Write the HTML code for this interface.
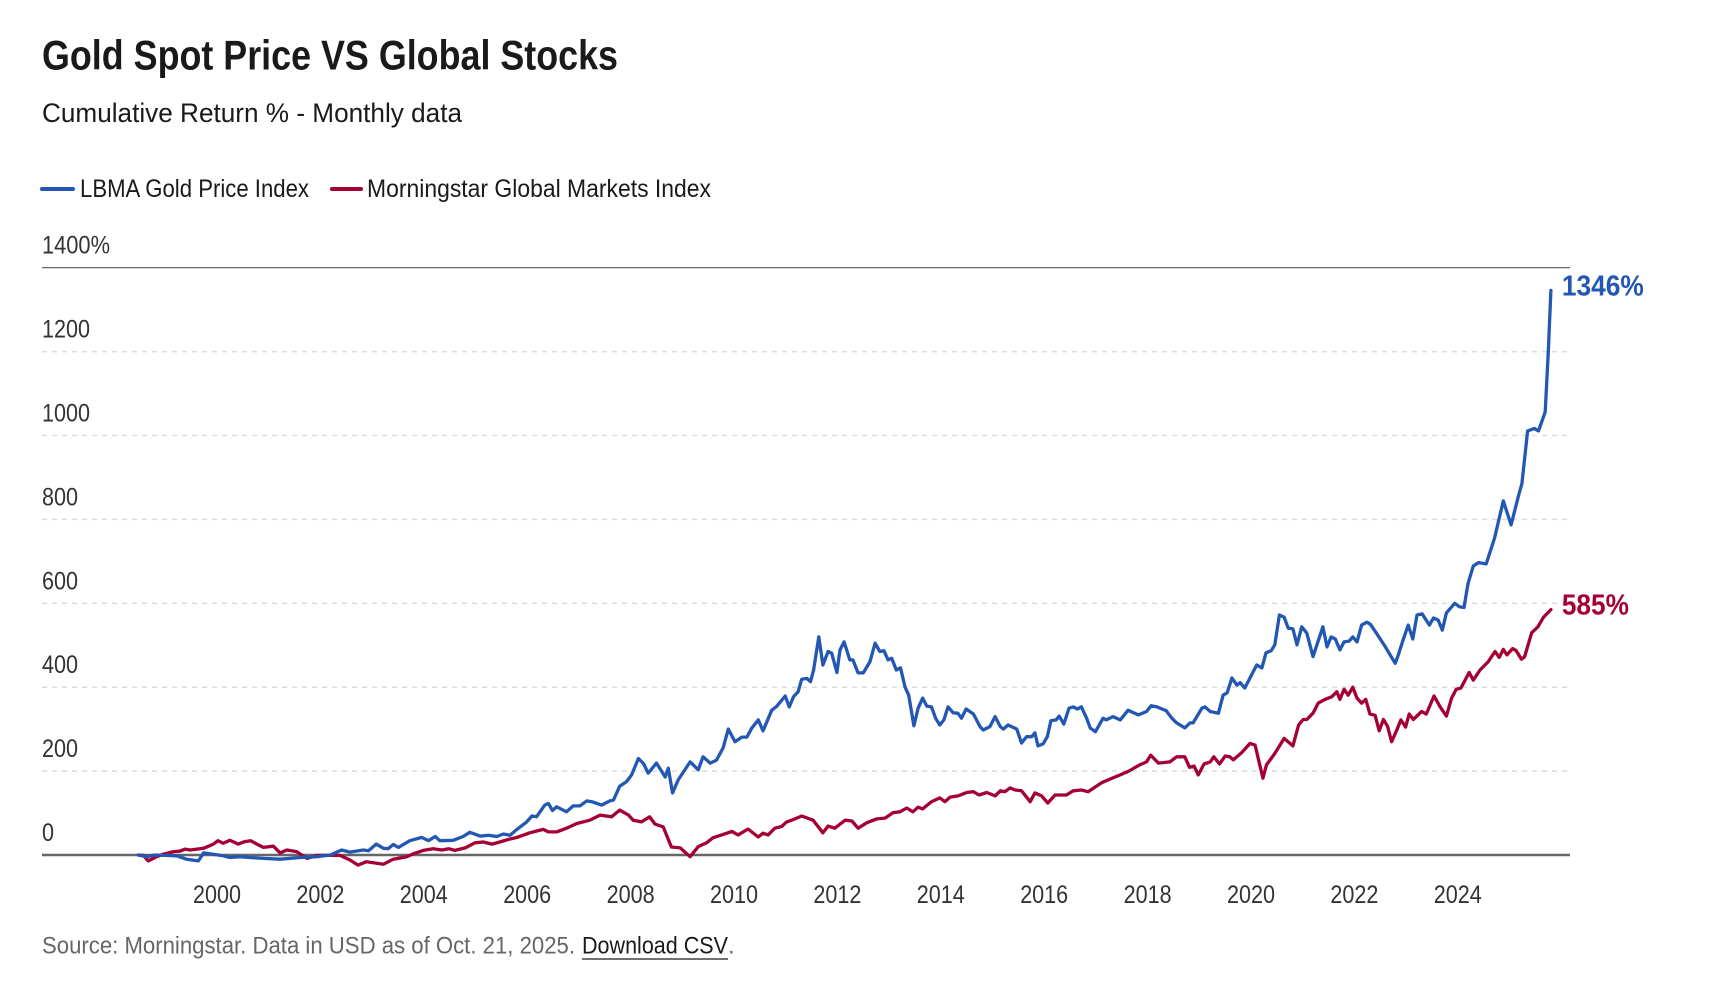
<!DOCTYPE html>
<html><head><meta charset="utf-8"><style>
html,body{margin:0;padding:0;background:#fff;}
svg{display:block;}
text{font-family:"Liberation Sans Narrow","Liberation Sans",sans-serif;}
</style></head><body>
<svg id="chart" width="1720" height="996" viewBox="0 0 1720 996">
<text x="42" y="55" font-size="42" font-weight="bold" fill="#1a1a1a" dominant-baseline="central" textLength="576" lengthAdjust="spacingAndGlyphs">Gold Spot Price VS Global Stocks</text>
<text x="42" y="113" font-size="27" fill="#1a1a1a" dominant-baseline="central" textLength="420" lengthAdjust="spacingAndGlyphs">Cumulative Return % - Monthly data</text>
<g>
<g><line x1="42" y1="189" x2="73" y2="189" stroke="#2257b3" stroke-width="4" stroke-linecap="round"/><text x="80" y="189" font-size="25" fill="#1a1a1a" dominant-baseline="central" textLength="229" lengthAdjust="spacingAndGlyphs">LBMA Gold Price Index</text></g>
<g><line x1="332" y1="189" x2="361" y2="189" stroke="#a50034" stroke-width="4" stroke-linecap="round"/><text x="367" y="189" font-size="25" fill="#1a1a1a" dominant-baseline="central" textLength="344" lengthAdjust="spacingAndGlyphs">Morningstar Global Markets Index</text></g>
</g>
<g id="grid"></g>
<g id="yaxis"></g>
<g id="xaxis"></g>
<g id="series"></g>
<text x="42" y="946" font-size="24" fill="#666" dominant-baseline="central" textLength="533" lengthAdjust="spacingAndGlyphs">Source: Morningstar. Data in USD as of Oct. 21, 2025.</text>
<text x="582" y="946" font-size="24" fill="#1a1a1a" dominant-baseline="central" textLength="146" lengthAdjust="spacingAndGlyphs">Download CSV</text>
<line x1="582" y1="959" x2="728" y2="959" stroke="#1a1a1a" stroke-width="1.3"/>
<text x="728" y="946" font-size="24" fill="#666" dominant-baseline="central">.</text>
</svg>
<script>
const yTicks = [0,200,400,600,800,1000,1200,1400];
const yTickLabels = ["0","200","400","600","800","1000","1200","1400%"];
const xTicks = [2000,2002,2004,2006,2008,2010,2012,2014,2016,2018,2020,2022,2024];
const goldDates = [1998.48,1998.64,1998.80,1999.22,1999.41,1999.64,1999.74,2000.12,2000.25,2000.44,2000.90,2001.22,2001.61,2001.93,2002.19,2002.41,2002.57,2002.83,2002.93,2003.08,2003.22,2003.31,2003.41,2003.51,2003.73,2003.96,2004.09,2004.22,2004.31,2004.57,2004.76,2004.89,2005.09,2005.25,2005.41,2005.54,2005.67,2005.80,2005.99,2006.09,2006.18,2006.34,2006.41,2006.49,2006.57,2006.76,2006.89,2007.02,2007.15,2007.25,2007.44,2007.60,2007.67,2007.79,2007.92,2008.02,2008.15,2008.25,2008.34,2008.50,2008.67,2008.73,2008.81,2008.92,2009.15,2009.31,2009.40,2009.54,2009.66,2009.79,2009.89,2010.02,2010.15,2010.25,2010.34,2010.47,2010.56,2010.73,2010.83,2010.99,2011.07,2011.15,2011.24,2011.31,2011.41,2011.48,2011.54,2011.64,2011.72,2011.82,2011.89,2011.99,2012.05,2012.13,2012.24,2012.30,2012.40,2012.50,2012.63,2012.73,2012.82,2012.90,2012.98,2013.05,2013.14,2013.22,2013.31,2013.38,2013.48,2013.56,2013.65,2013.73,2013.82,2013.90,2013.98,2014.06,2014.14,2014.24,2014.33,2014.40,2014.49,2014.63,2014.76,2014.82,2014.95,2015.05,2015.15,2015.21,2015.30,2015.47,2015.56,2015.66,2015.76,2015.82,2015.88,2015.98,2016.06,2016.13,2016.23,2016.29,2016.38,2016.48,2016.56,2016.64,2016.72,2016.82,2016.89,2016.99,2017.14,2017.20,2017.33,2017.47,2017.62,2017.82,2017.98,2018.07,2018.18,2018.36,2018.47,2018.56,2018.72,2018.82,2018.88,2019.05,2019.11,2019.21,2019.37,2019.46,2019.54,2019.63,2019.73,2019.79,2019.88,2020.11,2020.21,2020.29,2020.39,2020.46,2020.55,2020.64,2020.72,2020.81,2020.89,2020.98,2021.08,2021.20,2021.39,2021.47,2021.55,2021.63,2021.72,2021.80,2021.90,2021.97,2022.05,2022.14,2022.24,2022.31,2022.42,2022.59,2022.79,2022.85,2022.94,2023.04,2023.13,2023.21,2023.31,2023.45,2023.53,2023.62,2023.70,2023.78,2023.94,2024.03,2024.12,2024.20,2024.30,2024.40,2024.55,2024.71,2024.88,2025.03,2025.18,2025.24,2025.35,2025.48,2025.56,2025.69,2025.75,2025.80];
const goldValues = [0,-4,0,-2,-10,-14,5,-2,-6,-4,-8,-10,-6,-4,0,12,7,12,10,26,16,15,25,18,34,42,34,44,34,35,44,54,45,47,44,50,47,61,79,93,91,119,123,106,115,103,117,117,129,127,119,129,131,164,175,191,230,218,195,219,186,207,148,179,222,203,234,219,226,255,300,270,281,281,302,322,296,345,355,379,353,377,389,419,421,413,441,520,453,485,481,435,489,508,465,465,434,434,461,505,485,487,465,469,441,446,400,381,308,350,374,355,353,326,310,322,353,339,338,326,348,336,306,298,306,330,306,300,310,300,267,282,282,291,260,265,282,320,322,331,312,350,353,348,353,326,303,294,326,322,330,322,345,334,342,356,353,344,326,315,303,315,315,350,353,342,338,381,387,422,405,411,398,453,446,482,487,501,572,567,541,539,501,544,529,473,544,496,520,515,489,508,510,520,508,548,555,550,530,498,457,477,512,548,515,572,575,548,565,560,536,577,600,592,590,648,689,697,694,755,844,787,859,885,1011,1017,1011,1056,1200,1346];
const stockDates = [1998.48,1998.58,1998.67,1998.80,1998.96,1999.16,1999.28,1999.38,1999.48,1999.74,1999.93,2000.02,2000.12,2000.25,2000.41,2000.54,2000.65,2000.77,2000.90,2001.09,2001.22,2001.35,2001.54,2001.74,2001.93,2002.19,2002.38,2002.57,2002.73,2002.89,2003.22,2003.41,2003.67,2003.80,2003.99,2004.18,2004.35,2004.48,2004.60,2004.80,2004.99,2005.15,2005.32,2005.47,2005.63,2005.80,2006.05,2006.31,2006.41,2006.57,2006.76,2006.96,2007.21,2007.41,2007.63,2007.79,2007.96,2008.05,2008.21,2008.37,2008.47,2008.63,2008.79,2008.96,2009.15,2009.31,2009.47,2009.59,2009.76,2009.96,2010.08,2010.27,2010.47,2010.56,2010.66,2010.79,2010.92,2011.02,2011.18,2011.31,2011.53,2011.72,2011.82,2011.95,2012.15,2012.28,2012.40,2012.57,2012.76,2012.92,2013.08,2013.21,2013.34,2013.46,2013.56,2013.65,2013.82,2013.98,2014.08,2014.18,2014.33,2014.50,2014.63,2014.74,2014.89,2015.05,2015.15,2015.24,2015.34,2015.44,2015.56,2015.73,2015.82,2015.95,2016.07,2016.21,2016.43,2016.56,2016.72,2016.85,2017.11,2017.27,2017.47,2017.62,2017.85,2017.98,2018.06,2018.21,2018.43,2018.56,2018.72,2018.81,2018.90,2018.98,2019.09,2019.21,2019.28,2019.39,2019.50,2019.59,2019.66,2019.82,2019.98,2020.08,2020.23,2020.30,2020.46,2020.64,2020.81,2020.92,2021.01,2021.08,2021.20,2021.30,2021.43,2021.56,2021.66,2021.72,2021.80,2021.88,2021.97,2022.05,2022.14,2022.22,2022.30,2022.40,2022.48,2022.56,2022.64,2022.72,2022.82,2022.90,2022.99,2023.06,2023.14,2023.30,2023.39,2023.54,2023.66,2023.78,2023.88,2023.97,2024.06,2024.22,2024.30,2024.43,2024.59,2024.72,2024.80,2024.88,2024.95,2025.06,2025.13,2025.23,2025.29,2025.43,2025.55,2025.66,2025.80];
const stockValues = [0,-1,-14,-6,2,8,9,14,12,16,26,34,28,35,26,32,34,26,18,21,5,12,8,-8,-1,-1,-1,-12,-24,-16,-22,-10,-4,3,11,15,12,15,11,17,29,31,26,31,37,42,53,61,55,55,64,75,83,95,91,107,95,83,79,91,74,67,19,17,-4,20,29,41,48,56,48,62,43,52,48,64,68,79,86,93,83,53,69,64,83,81,64,77,86,88,101,103,112,103,114,110,127,136,127,138,141,149,151,143,149,141,153,151,160,155,153,127,148,141,124,143,143,153,155,151,172,181,191,199,215,222,238,219,222,234,234,209,212,191,217,222,234,217,236,234,227,244,266,262,183,215,242,278,260,310,323,323,338,362,371,377,389,371,395,381,400,374,362,371,336,333,296,323,307,270,298,322,305,336,323,342,336,379,353,331,374,395,398,435,417,441,461,485,471,490,477,492,487,467,472,530,544,567,585];

const X0 = 217, PX_PER_YEAR = 51.7, Y0 = 855, PX_PER_UNIT = 83.9/200;
function xScale(yr){ return X0 + (yr-2000)*PX_PER_YEAR; }
function yScale(v){ return Y0 - v*PX_PER_UNIT; }
const NS = "http://www.w3.org/2000/svg";
function mk(tag, attrs){ const e=document.createElementNS(NS,tag); for(const k in attrs) e.setAttribute(k,attrs[k]); return e; }
function labelWidth(s){ let w=0; for(const c of s){ w += (c==='%') ? 20 : 12; } return w; }
const grid=document.getElementById('grid'), yaxis=document.getElementById('yaxis'), xaxis=document.getElementById('xaxis'), series=document.getElementById('series');
yTicks.forEach((t,i)=>{
  const y=yScale(t);
  let ln;
  if(t===0){ ln=mk('line',{x1:42,x2:1570,y1:y,y2:y,stroke:'#666','stroke-width':2.5}); }
  else if(t===1400){ ln=mk('line',{x1:42,x2:1570,y1:y,y2:y,stroke:'#555','stroke-width':1.2}); }
  else { ln=mk('line',{x1:42,x2:1568,y1:y,y2:y,stroke:'#dcdcdc','stroke-width':1.5,'stroke-dasharray':'5,5'}); }
  
  
  grid.appendChild(ln);
  const s=yTickLabels[i];
  const tx=mk('text',{x:42,y:y-22,'font-size':25,fill:'#333','dominant-baseline':'central',textLength:labelWidth(s),lengthAdjust:'spacingAndGlyphs'});
  tx.textContent=s;
  
  
  yaxis.appendChild(tx);
});
xTicks.forEach(t=>{
  const s=String(t);
  const tx=mk('text',{x:xScale(t),y:895,'font-size':25,fill:'#333','text-anchor':'middle','dominant-baseline':'central',textLength:labelWidth(s),lengthAdjust:'spacingAndGlyphs'});
  tx.textContent=s;
  
  
  xaxis.appendChild(tx);
});
function drawLine(dates, vals, color, name){
  const d=dates.map((dt,i)=>(i?'L':'M')+xScale(dt).toFixed(1)+','+yScale(vals[i]).toFixed(1)).join(' ');
  const p=mk('path',{d:d,fill:'none',stroke:color,'stroke-width':3.3,'stroke-linejoin':'round','stroke-linecap':'round'});
  
  
  series.appendChild(p);
}
drawLine(stockDates, stockValues, '#a50034', 'stocks-line');
drawLine(goldDates, goldValues, '#2257b3', 'gold-line');
function endLabel(dates, vals, color, name){
  const n=vals.length-1;
  const s=Math.round(vals[n])+'%';
  const tx=mk('text',{x:xScale(dates[n])+11,y:yScale(vals[n])-4,'font-size':29,'font-weight':'bold',fill:color,'dominant-baseline':'central',textLength:(s.length-1)*15+22,lengthAdjust:'spacingAndGlyphs'});
  tx.textContent=s;
  
  
  series.appendChild(tx);
}
endLabel(goldDates, goldValues, '#2257b3', 'gold-end-label');
endLabel(stockDates, stockValues, '#a50034', 'stocks-end-label');
</script>
</body></html>
